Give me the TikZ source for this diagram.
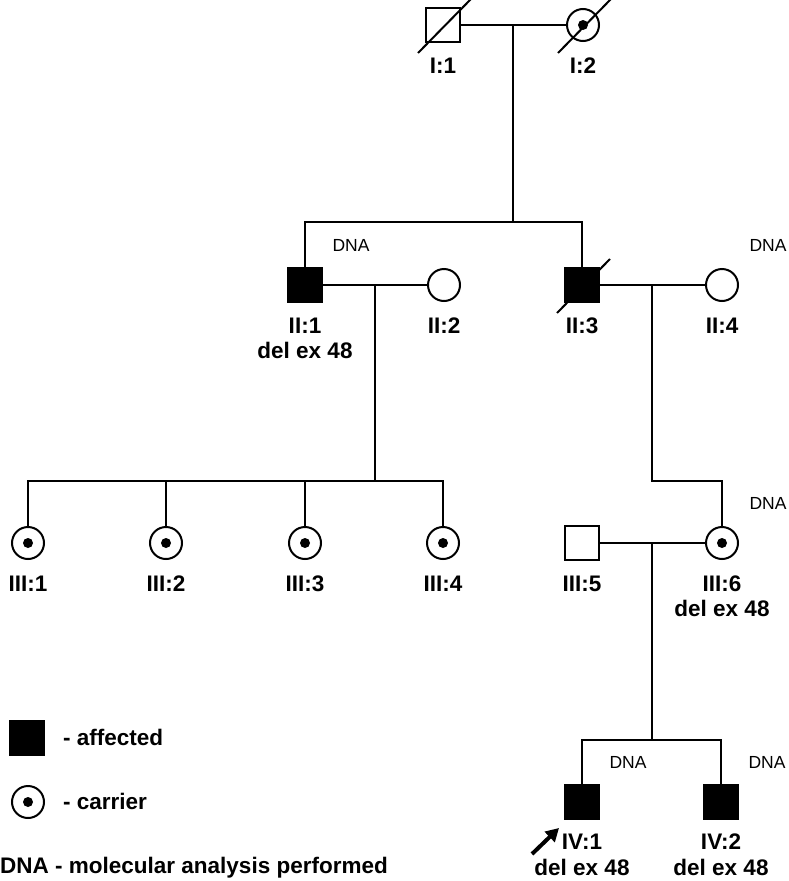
\documentclass[tikz,border=0pt]{standalone}
\usepackage{fontspec}
\setmainfont{Liberation Sans}
\usepackage{tikz}
\usetikzlibrary{arrows.meta}

\tikzset{
  male/.style={draw, rectangle, minimum size=34pt, inner sep=0pt, line width=2pt},
  female/.style={draw, circle, minimum size=32pt, inner sep=0pt, line width=2pt},
  affected/.style={fill=black},
  carrier/.style={path picture={\fill (path picture bounding box.center) circle (5pt);}},
  idlabel/.style={anchor=base, inner sep=0pt, font=\bfseries\fontsize{22.5}{24}\selectfont},
  dnalabel/.style={anchor=base, inner sep=0pt, font=\fontsize{17.5}{19}\selectfont},
  rel/.style={line width=2pt},
  proband/.style={line width=4pt, -{Triangle[length=13pt,width=14pt]}},
}

\begin{document}
\begin{tikzpicture}[x=1pt,y=-1pt]
                \useasboundingbox (0,0) rectangle (788,881);

                % 第一代
                \node[male] (I1) at (443,25) {};
                \node[female,carrier] (I2) at (583,25) {};
                \coordinate (m1) at (513,25);
                \coordinate (s1) at (513,222);

                % 第二代
                \node[male,affected] (II1) at (305,285) {};
                \node[female] (II2) at (444,285) {};
                \node[male,affected] (II3) at (582,285) {};
                \node[female] (II4) at (722,285) {};
                \coordinate (m2) at (375,285);
                \coordinate (s2) at (375,481);
                \coordinate (m3) at (652,285);

                % 第三代
                \node[female,carrier] (III1) at (28,543) {};
                \node[female,carrier] (III2) at (166,543) {};
                \node[female,carrier] (III3) at (305,543) {};
                \node[female,carrier] (III4) at (443,543) {};
                \node[male] (III5) at (582,543) {};
                \node[female,carrier] (III6) at (722,543) {};
                \coordinate (m4) at (652,543);
                \coordinate (s4) at (652,740);

                % 第四代
                \node[male,affected] (IV1) at (582,802) {};
                \node[male,affected] (IV2) at (721,802) {};

                % 连线
                \draw[rel] (I1) -- (I2);
                \draw[rel] (m1) -- (s1);
                \draw[rel] (II1) |- (s1) -| (II3);
                \draw[rel] (II1) -- (II2);
                \draw[rel] (II3) -- (II4);
                \draw[rel] (m2) -- (s2);
                \draw[rel] (III1) |- (s2) -| (III4);
                \foreach \k in {III2,III3}
                    \draw[rel] (\k) -- (\k |- s2);
                \draw[rel] (m3) -- (m3 |- s2) -| (III6);
                \draw[rel] (III5) -- (III6);
                \draw[rel] (m4) -- (s4);
                \draw[rel] (IV1) |- (s4) -| (IV2);

                % 已故
                \foreach \k in {I1,I2,II3}
                    \draw[rel] (\k.center) +(-25,28) -- +(28,-26);

                % 编号
                \node[idlabel] (I1l) at (443,73) {I:1};
                \node[idlabel] (I2l) at (583,73) {I:2};
                \node[idlabel] (II1l) at (305,333) {II:1};
                \node[idlabel] (II1d) at (305,358) {del ex 48};
                \node[idlabel] (II2l) at (444,333) {II:2};
                \node[idlabel] (II3l) at (582,333) {II:3};
                \node[idlabel] (II4l) at (722,333) {II:4};
                \node[idlabel] (III1l) at (28,591) {III:1};
                \node[idlabel] (III2l) at (166,591) {III:2};
                \node[idlabel] (III3l) at (305,591) {III:3};
                \node[idlabel] (III4l) at (443,591) {III:4};
                \node[idlabel] (III5l) at (582,591) {III:5};
                \node[idlabel] (III6l) at (722,591) {III:6};
                \node[idlabel] (III6d) at (722,616) {del ex 48};
                \node[idlabel] (IV1l) at (582,849) {IV:1};
                \node[idlabel] (IV1d) at (582,875) {del ex 48};
                \node[idlabel] (IV2l) at (721,849) {IV:2};
                \node[idlabel] (IV2d) at (721,875) {del ex 48};

                % DNA
                \node[dnalabel] (II1n) at (351,251) {DNA};
                \node[dnalabel] (II4n) at (768,251) {DNA};
                \node[dnalabel] (III6n) at (768,509) {DNA};
                \node[dnalabel] (IV1n) at (628,768) {DNA};
                \node[dnalabel] (IV2n) at (767,768) {DNA};

                % 先证者
                \coordinate (pb) at (532,854);
                \coordinate (pbtip) at (559,828);
                \draw[proband] (pb) -- (pbtip);

                % 图例
                \node[male,affected] (keyaff) at (27,738) {};
                \node[idlabel,anchor=base west] (keyafft) at (63,745) {- affected};
                \node[female,carrier] (keycar) at (28,802) {};
                \node[idlabel,anchor=base west] (keycart) at (63,809) {- carrier};
                \node[idlabel,anchor=base west] (keydna) at (0,873) {DNA - molecular analysis performed};
            \end{tikzpicture}
\end{document}
